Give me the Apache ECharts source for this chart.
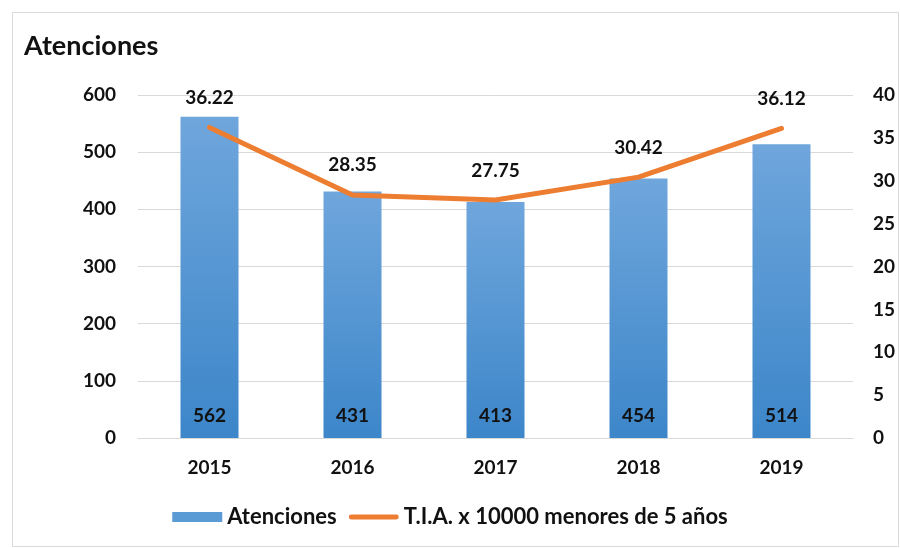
<!DOCTYPE html>
<html><head><meta charset="utf-8">
<script src="https://cdn.jsdelivr.net/npm/echarts@6/dist/echarts.min.js"></script>
<style>html,body{margin:0;padding:0;background:#fff}#c{width:900px;height:548px}</style>
</head><body><div id="c"></div>
<script>
const categories = ['2015','2016','2017','2018','2019'];
const atenciones = [562, 431, 413, 454, 514];
const tia = [36.22, 28.35, 27.75, 30.42, 36.12];
const FONT = 'Lato, "Open Sans", sans-serif';
const chart = echarts.init(document.getElementById('c'));
const lbl = {fontFamily: FONT, fontSize: 19, fontWeight: 'bold', color: '#111'};
chart.setOption({
  animation: false,
  textStyle: {fontFamily: FONT},
  title: {text: 'Atenciones', left: 19, top: 28, textStyle: {fontFamily: FONT, fontSize: 27, fontWeight: 'bold', color: '#111'}},
  graphic: [{type: 'rect', left: 10, top: 10, shape: {width: 886, height: 534}, style: {fill: 'none', stroke: '#d9d9d9', lineWidth: 1}}],
  grid: {left: 138, right: 47, top: 95, bottom: 110},
  legend: {
    bottom: 15, left: 'center', itemGap: 12, itemWidth: 50, itemHeight: 10,
    textStyle: Object.assign({}, lbl, {fontSize: 22}),
    data: [{name: 'Atenciones', icon: 'rect', itemStyle: {color: '#5b9bd5'}},
           {name: 'T.I.A. x 10000 menores de 5 años', icon: 'path://M2,0 L48,0 A2.5,2.5 0 0 1 48,5 L2,5 A2.5,2.5 0 0 1 2,0 Z'}]
  },
  xAxis: {
    type: 'category', data: categories,
    axisLine: {lineStyle: {color: '#d9d9d9'}}, axisTick: {show: false},
    axisLabel: Object.assign({}, lbl, {margin: 20})
  },
  yAxis: [
    {type: 'value', min: 0, max: 600, interval: 100,
     axisLine: {show: false}, axisTick: {show: false},
     splitLine: {lineStyle: {color: '#d9d9d9'}},
     axisLabel: Object.assign({}, lbl, {margin: 22})},
    {type: 'value', min: 0, max: 40, interval: 5,
     axisLine: {show: false}, axisTick: {show: false}, splitLine: {show: false},
     axisLabel: Object.assign({}, lbl, {margin: 20})}
  ],
  series: [
    {name: 'Atenciones', type: 'bar', data: atenciones, barWidth: 58,
     itemStyle: {color: new echarts.graphic.LinearGradient(0,0,0,1,[{offset:0,color:'#6fa6dc'},{offset:1,color:'#3c86c9'}])},
     label: Object.assign({show: true, position: 'insideBottom', distance: 13}, lbl)},
    {name: 'T.I.A. x 10000 menores de 5 años', type: 'line', yAxisIndex: 1, data: tia,
     symbol: 'circle', symbolSize: 0.1, showSymbol: true,
     lineStyle: {color: '#ed7d31', width: 5, cap: 'round'}, itemStyle: {color: '#ed7d31'},
     label: Object.assign({show: true, position: 'top', distance: 20, formatter: p => p.value.toFixed(2)}, lbl)}
  ]
});
</script></body></html>
